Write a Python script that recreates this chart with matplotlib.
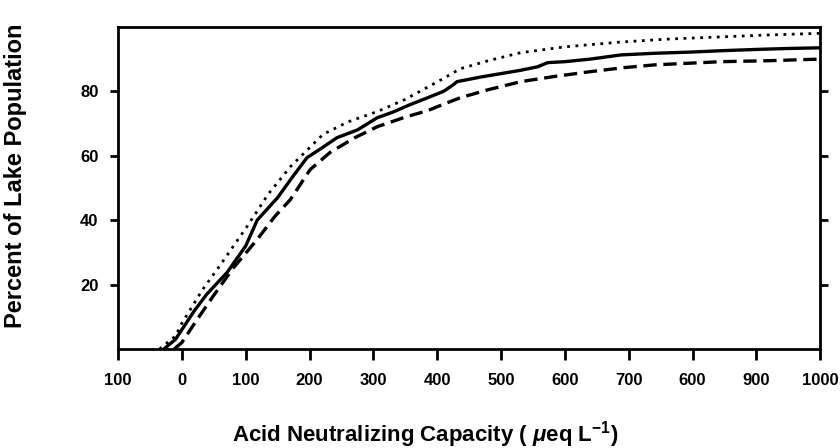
from matplotlib import pyplot as plt

plt.rcParams['font.family'] = ['Liberation Sans', 'DejaVu Sans']
plt.rcParams['font.weight'] = 'bold'
plt.rcParams['mathtext.fontset'] = 'custom'
plt.rcParams['mathtext.rm'] = 'Liberation Sans:bold'
plt.rcParams['mathtext.it'] = 'Liberation Sans:bold:italic'
plt.rcParams['mathtext.bf'] = 'Liberation Sans:bold'

# estimate curve (solid)
anc_mid = [-28, -10, 0, 20, 39, 71, 100, 118, 150, 174, 196, 220, 243, 275, 306, 330,
           358, 385, 410, 425, 431, 470, 500, 530, 557, 573, 600, 640, 688, 740, 800,
           845, 900, 950, 1000]
pct_mid = [0, 3, 6, 12, 17, 23.8, 32, 40, 47, 53.6, 59.4, 62.5, 65.6, 68, 71.8, 73.5,
           75.9, 78, 80, 82, 83, 84.5, 85.5, 86.5, 87.6, 88.9, 89.2, 90, 91.3, 91.8, 92.2,
           92.6, 93, 93.3, 93.5]

# upper bound (dotted)
anc_hi = [-35, -10, 0, 33, 60, 102, 135, 170, 221, 260, 306, 350, 410, 436, 480, 531,
          600, 688, 760, 845, 920, 1000]
pct_hi = [0, 4, 8, 18.6, 26, 38, 48, 56.6, 66.6, 70.5, 73.7, 77.5, 84, 87, 89.5, 92,
          93.8, 95.3, 96.2, 96.9, 97.5, 98]

# lower bound (dashed)
anc_lo = [-12, 0, 20, 49, 80, 118, 145, 170, 201, 232, 270, 306, 350, 385, 410, 436,
          480, 531, 580, 636, 690, 740, 845, 920, 1000]
pct_lo = [0, 2, 8, 16.4, 25, 34, 41, 46.4, 55.7, 61, 65.5, 69, 72, 74, 76, 78,
          80.5, 83, 84.5, 86, 87.3, 88.2, 89.2, 89.5, 90]

xticks = [-100, 0, 100, 200, 300, 400, 500, 600, 700, 800, 900, 1000]
xtick_labels = ['100', '0', '100', '200', '300', '400', '500', '600', '700', '600', '900', '1000']
yticks = [20, 40, 60, 80]

fig = plt.figure(figsize=(8.4, 4.48), dpi=100)
ax = fig.add_axes([0.1405, 0.221, 0.836, 0.719])

ax.plot(anc_hi, pct_hi, color='black', lw=2.0, linestyle=(0, (1, 2)))
ax.plot(anc_mid, pct_mid, color='black', lw=2.4, linestyle='-')
ax.plot(anc_lo, pct_lo, color='black', lw=2.4, linestyle=(0, (4, 2)))

ax.set_xlim(-100, 1000)
ax.set_ylim(0, 100)
ax.set_xticks(xticks)
ax.set_xticklabels(xtick_labels)
ax.set_yticks(yticks)
ax.tick_params(axis='both', direction='out', width=2, labelsize=12, color='black')
ax.tick_params(axis='x', length=8, pad=9)
ax.tick_params(axis='y', length=6, right=True, pad=8)
for s in ax.spines.values():
    s.set_linewidth(2)

# axis titles placed by hand, as in the scanned figure
fig.text(425 / 840, 1 - 441 / 448, r'Acid Neutralizing Capacity ( $\mathit{\mu}$eq L$^{-1}$)',
         fontsize=16, fontweight='bold', ha='center', va='baseline')
fig.text(16 / 840, 1 - 176 / 448, 'Percent of Lake Population', fontsize=17,
         fontweight='bold', rotation=90, ha='center', va='center')

fig.savefig('out.png', dpi=100)
